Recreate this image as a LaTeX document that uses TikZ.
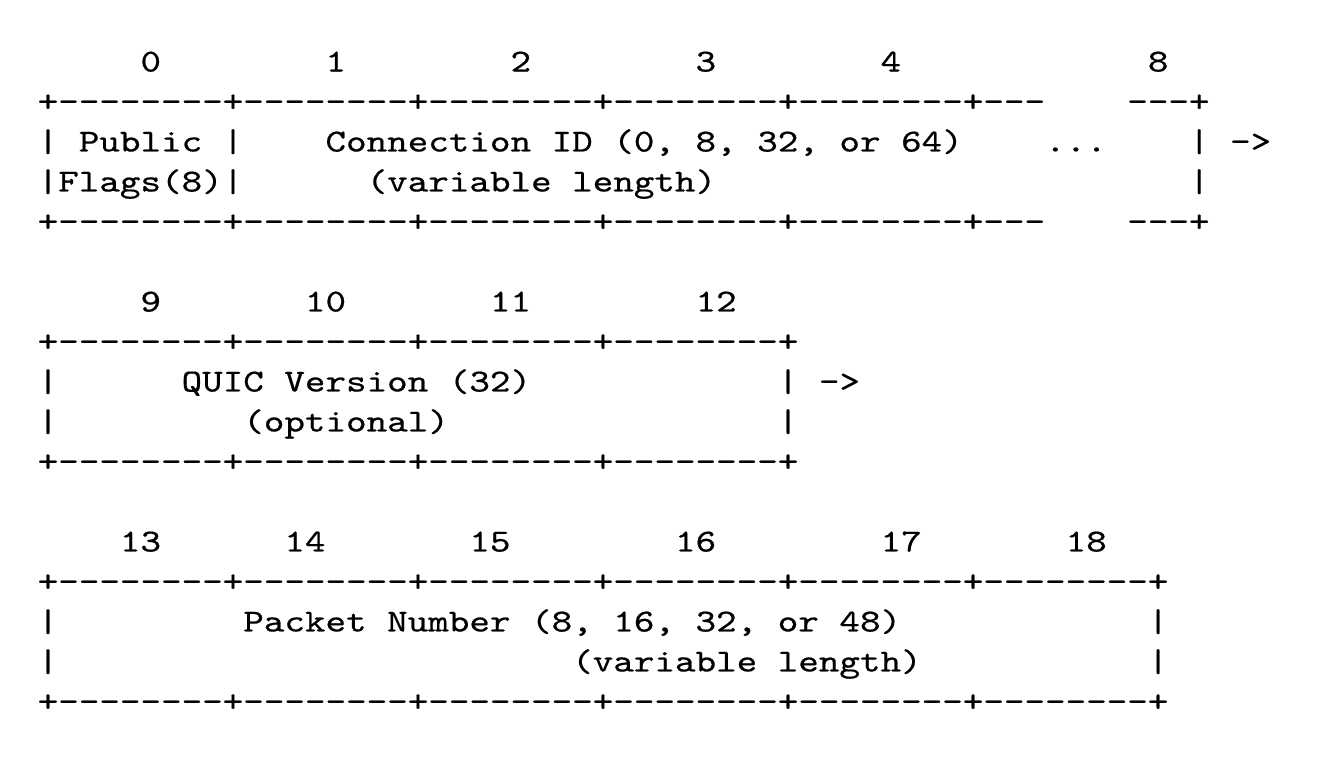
\documentclass[tikz,border=0pt]{standalone}
\usepackage{fontspec}
\setmonofont{lmmono10-regular.otf}[FakeStretch=1.2238,FakeBold=0.6]
\begin{document}
\begin{tikzpicture}[x=10.28pt,y=-20pt,
    ascii/.style={anchor=base west,inner sep=0pt,outer sep=0pt,
      font=\ttfamily\fontsize{16pt}{20pt}\selectfont}]

        \useasboundingbox (-1.834,-0.7875) rectangle (62.47,18.2625);

            % first row: public flags and connection id
            \node[ascii] (b0) at (5,1) {0};
            \node[ascii] (b1) at (14,1) {1};
            \node[ascii] (b2) at (23,1) {2};
            \node[ascii] (b3) at (32,1) {3};
            \node[ascii] (b4) at (41,1) {4};
            \node[ascii] (b8) at (54,1) {8};

            \node[ascii] (topA) at (0,2) {+--------+--------+--------+--------+--------+---};
            \node[ascii] (topB) at (53,2) {---+};

            \node[ascii] (barA) at (0,3) {|};
            \node[ascii] (pub) at (2,3) {Public};
            \node[ascii] (barB) at (9,3) {|};
            \node[ascii] (cid) at (14,3) {Connection ID (0, 8, 32, or 64)};
            \node[ascii] (dots) at (49,3) {...};
            \node[ascii] (barC) at (56,3) {|};
            \node[ascii] (nextA) at (58,3) {->};

            \node[ascii] (flags) at (0,4) {|Flags(8)|};
            \node[ascii] (cidlen) at (16,4) {(variable length)};
            \node[ascii] (barD) at (56,4) {|};

            \node[ascii] (botA) at (0,5) {+--------+--------+--------+--------+--------+---};
            \node[ascii] (botB) at (53,5) {---+};

            % second row: version
            \node[ascii] (b9) at (5,7) {9};
            \node[ascii] (b10) at (13,7) {10};
            \node[ascii] (b11) at (22,7) {11};
            \node[ascii] (b12) at (32,7) {12};

            \node[ascii] (vtop) at (0,8) {+--------+--------+--------+--------+};

            \node[ascii] (barE) at (0,9) {|};
            \node[ascii] (ver) at (7,9) {QUIC Version (32)};
            \node[ascii] (barF) at (36,9) {|};
            \node[ascii] (nextB) at (38,9) {->};

            \node[ascii] (barG) at (0,10) {|};
            \node[ascii] (opt) at (10,10) {(optional)};
            \node[ascii] (barH) at (36,10) {|};

            \node[ascii] (vbot) at (0,11) {+--------+--------+--------+--------+};

            % third row: packet number
            \node[ascii] (b13) at (4,13) {13};
            \node[ascii] (b14) at (12,13) {14};
            \node[ascii] (b15) at (21,13) {15};
            \node[ascii] (b16) at (31,13) {16};
            \node[ascii] (b17) at (41,13) {17};
            \node[ascii] (b18) at (50,13) {18};

            \node[ascii] (ptop) at (0,14) {+--------+--------+--------+--------+--------+--------+};

            \node[ascii] (barI) at (0,15) {|};
            \node[ascii] (pkt) at (10,15) {Packet Number (8, 16, 32, or 48)};
            \node[ascii] (barJ) at (54,15) {|};

            \node[ascii] (barK) at (0,16) {|};
            \node[ascii] (pktlen) at (26,16) {(variable length)};
            \node[ascii] (barL) at (54,16) {|};

            \node[ascii] (pbot) at (0,17) {+--------+--------+--------+--------+--------+--------+};

        \end{tikzpicture}
\end{document}
